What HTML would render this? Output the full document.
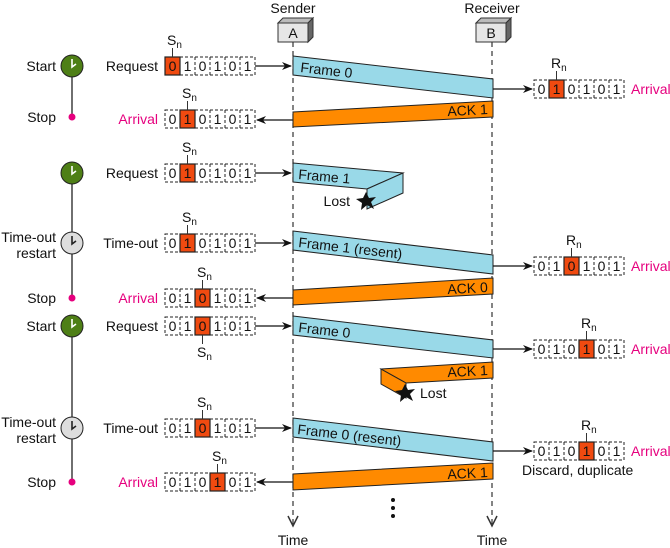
<!DOCTYPE html>
<html><head><meta charset="utf-8"><style>
html,body{margin:0;padding:0;background:#fff}
svg{display:block}
text{font-family:"Liberation Sans",sans-serif;font-size:14px;fill:#111}
.m{fill:#e6007e}
.c{text-anchor:middle}
.e{text-anchor:end}
.box{fill:none;stroke:#222;stroke-width:1;stroke-dasharray:3,2}
.hl{fill:#f04a10;stroke:#222;stroke-width:1.2}
.bl{fill:#99d9e8;stroke:#222;stroke-width:1}
.or{fill:#ff8a00;stroke:#222;stroke-width:1}
.ln{stroke:#111;stroke-width:1.3;fill:none}
</style></head><body>
<svg width="670" height="548" viewBox="0 0 670 548" xmlns="http://www.w3.org/2000/svg">
<defs>
<marker id="ar" markerWidth="10" markerHeight="8" refX="9" refY="4" orient="auto" markerUnits="userSpaceOnUse"><path d="M0,0 L10,4 L0,8 L3,4 z" fill="#111"/></marker>
<g id="bits"><rect class="box" x="0" y="-9" width="90" height="18"/><path class="box" d="M15,-9v18M30,-9v18M45,-9v18M60,-9v18M75,-9v18"/></g>
</defs>

<text class="c" x="293" y="13">Sender</text>
<text class="c" x="492" y="13">Receiver</text>
<polygon points="278,23 283,18 313,18 308,23" fill="#bbb" stroke="#333"/>
<polygon points="308,23 313,18 313,37 308,42" fill="#666" stroke="#333"/>
<rect x="278" y="23" width="30" height="19" fill="#e6e6e6" stroke="#333"/>
<text class="c" x="293" y="38">A</text>
<polygon points="476,23 481,18 511,18 506,23" fill="#bbb" stroke="#333"/>
<polygon points="506,23 511,18 511,37 506,42" fill="#666" stroke="#333"/>
<rect x="476" y="23" width="30" height="19" fill="#e6e6e6" stroke="#333"/>
<text class="c" x="491" y="38">B</text>
<path d="M293,42 V524 M492,42 V524" stroke="#333" stroke-width="1.2" stroke-dasharray="5,4"/>
<path d="M288,516 L293,526 L298,516 M487,516 L492,526 L497,516" fill="none" stroke="#333" stroke-width="1.5"/>
<text class="c" x="293" y="545">Time</text>
<text class="c" x="492" y="545">Time</text>
<circle cx="393" cy="500" r="2" fill="#111"/><circle cx="393" cy="508" r="2" fill="#111"/><circle cx="393" cy="516" r="2" fill="#111"/>

<path d="M72,66 V117 M72,173 V297 M72,326 V482" stroke="#222" stroke-width="1.3"/>
<circle cx="72" cy="66" r="11" fill="#4e7f16" stroke="#222"/><path d="M72,59 V67 L76,64" stroke="#fff" stroke-width="1.6" fill="none"/>
<circle cx="72" cy="117" r="3.5" fill="#e6007e"/>
<circle cx="72" cy="173" r="11" fill="#4e7f16" stroke="#222"/><path d="M72,166 V174 L76,171" stroke="#fff" stroke-width="1.6" fill="none"/>
<circle cx="72" cy="243" r="11" fill="#ddd" stroke="#222"/><path d="M72,236 V244 L76,241" stroke="#222" stroke-width="1.6" fill="none"/>
<circle cx="72" cy="298" r="3.5" fill="#e6007e"/>
<circle cx="72" cy="326" r="11" fill="#4e7f16" stroke="#222"/><path d="M72,319 V327 L76,324" stroke="#fff" stroke-width="1.6" fill="none"/>
<circle cx="72" cy="428" r="11" fill="#ddd" stroke="#222"/><path d="M72,421 V429 L76,426" stroke="#222" stroke-width="1.6" fill="none"/>
<circle cx="72" cy="482" r="3.5" fill="#e6007e"/>
<text class="e" x="56" y="71">Start</text>
<text class="e" x="56" y="122">Stop</text>
<text class="e" x="56" y="242">Time-out</text>
<text class="e" x="56" y="258">restart</text>
<text class="e" x="56" y="303">Stop</text>
<text class="e" x="56" y="331">Start</text>
<text class="e" x="56" y="427">Time-out</text>
<text class="e" x="56" y="443">restart</text>
<text class="e" x="56" y="487">Stop</text>

<text class="e" x="158" y="71">Request</text>
<text class="e m" x="158" y="124">Arrival</text>
<text class="e" x="158" y="178">Request</text>
<text class="e" x="158" y="248">Time-out</text>
<text class="e m" x="158" y="303">Arrival</text>
<text class="e" x="158" y="331">Request</text>
<text class="e" x="158" y="433">Time-out</text>
<text class="e m" x="158" y="487">Arrival</text>

<g transform="translate(165,66)"><use href="#bits"/><rect class="hl" x="0" y="-9" width="15" height="18"/><path d="M7.5,-9v-9" stroke="#333"/><text x="2" y="-21">S<tspan font-size="10" dy="3">n</tspan></text>
<text class="c" x="7.5" y="5">0</text><text class="c" x="22.5" y="5">1</text><text class="c" x="37.5" y="5">0</text><text class="c" x="52.5" y="5">1</text><text class="c" x="67.5" y="5">0</text><text class="c" x="82.5" y="5">1</text></g>

<g transform="translate(165,119)"><use href="#bits"/><rect class="hl" x="15" y="-9" width="15" height="18"/><path d="M22.5,-9v-9" stroke="#333"/><text x="17" y="-21">S<tspan font-size="10" dy="3">n</tspan></text>
<text class="c" x="7.5" y="5">0</text><text class="c" x="22.5" y="5">1</text><text class="c" x="37.5" y="5">0</text><text class="c" x="52.5" y="5">1</text><text class="c" x="67.5" y="5">0</text><text class="c" x="82.5" y="5">1</text></g>

<g transform="translate(165,173)"><use href="#bits"/><rect class="hl" x="15" y="-9" width="15" height="18"/><path d="M22.5,-9v-9" stroke="#333"/><text x="17" y="-21">S<tspan font-size="10" dy="3">n</tspan></text>
<text class="c" x="7.5" y="5">0</text><text class="c" x="22.5" y="5">1</text><text class="c" x="37.5" y="5">0</text><text class="c" x="52.5" y="5">1</text><text class="c" x="67.5" y="5">0</text><text class="c" x="82.5" y="5">1</text></g>

<g transform="translate(165,243)"><use href="#bits"/><rect class="hl" x="15" y="-9" width="15" height="18"/><path d="M22.5,-9v-9" stroke="#333"/><text x="17" y="-21">S<tspan font-size="10" dy="3">n</tspan></text>
<text class="c" x="7.5" y="5">0</text><text class="c" x="22.5" y="5">1</text><text class="c" x="37.5" y="5">0</text><text class="c" x="52.5" y="5">1</text><text class="c" x="67.5" y="5">0</text><text class="c" x="82.5" y="5">1</text></g>

<g transform="translate(165,298)"><use href="#bits"/><rect class="hl" x="30" y="-9" width="15" height="18"/><path d="M37.5,-9v-9" stroke="#333"/><text x="32" y="-21">S<tspan font-size="10" dy="3">n</tspan></text>
<text class="c" x="7.5" y="5">0</text><text class="c" x="22.5" y="5">1</text><text class="c" x="37.5" y="5">0</text><text class="c" x="52.5" y="5">1</text><text class="c" x="67.5" y="5">0</text><text class="c" x="82.5" y="5">1</text></g>

<g transform="translate(165,326)"><use href="#bits"/><rect class="hl" x="30" y="-9" width="15" height="18"/><path d="M37.5,9v9" stroke="#333"/><text x="32" y="31">S<tspan font-size="10" dy="3">n</tspan></text>
<text class="c" x="7.5" y="5">0</text><text class="c" x="22.5" y="5">1</text><text class="c" x="37.5" y="5">0</text><text class="c" x="52.5" y="5">1</text><text class="c" x="67.5" y="5">0</text><text class="c" x="82.5" y="5">1</text></g>

<g transform="translate(165,428)"><use href="#bits"/><rect class="hl" x="30" y="-9" width="15" height="18"/><path d="M37.5,-9v-9" stroke="#333"/><text x="32" y="-21">S<tspan font-size="10" dy="3">n</tspan></text>
<text class="c" x="7.5" y="5">0</text><text class="c" x="22.5" y="5">1</text><text class="c" x="37.5" y="5">0</text><text class="c" x="52.5" y="5">1</text><text class="c" x="67.5" y="5">0</text><text class="c" x="82.5" y="5">1</text></g>

<g transform="translate(165,482)"><use href="#bits"/><rect class="hl" x="45" y="-9" width="15" height="18"/><path d="M52.5,-9v-9" stroke="#333"/><text x="47" y="-21">S<tspan font-size="10" dy="3">n</tspan></text>
<text class="c" x="7.5" y="5">0</text><text class="c" x="22.5" y="5">1</text><text class="c" x="37.5" y="5">0</text><text class="c" x="52.5" y="5">1</text><text class="c" x="67.5" y="5">0</text><text class="c" x="82.5" y="5">1</text></g>

<path class="ln" d="M255,66 H291" marker-end="url(#ar)"/>
<path class="ln" d="M293,120 H257" marker-end="url(#ar)"/>
<path class="ln" d="M255,173 H291" marker-end="url(#ar)"/>
<path class="ln" d="M255,243 H291" marker-end="url(#ar)"/>
<path class="ln" d="M293,298 H257" marker-end="url(#ar)"/>
<path class="ln" d="M255,326 H291" marker-end="url(#ar)"/>
<path class="ln" d="M255,428 H291" marker-end="url(#ar)"/>
<path class="ln" d="M293,482 H257" marker-end="url(#ar)"/>

<polygon class="bl" points="293,56 493,79 493,98 293,75"/>
<text x="300" y="72" transform="rotate(6.5 300 72)">Frame 0</text>
<polygon class="or" points="493,101 493,117 293,127 293,112"/>
<text class="e" x="488" y="114" transform="rotate(-3 488 114)">ACK 1</text>

<polygon class="bl" points="293,163 403,173 367,189 293,182"/>
<polygon class="bl" points="367,189 403,173 403,193 367,209"/>
<text x="298" y="179" transform="rotate(5 298 179)">Frame 1</text>
<text class="e" x="350" y="206">Lost</text>
<polygon points="366,192 369,198 376,197 371,202 374,209 367,205 361,210 362,203 356,199 363,198" fill="#111"/>

<polygon class="bl" points="293,231 493,255 493,274 293,250"/>
<text x="298" y="247" transform="rotate(6.5 298 247)">Frame 1 (resent)</text>
<polygon class="or" points="493,278 493,294 293,305 293,290"/>
<text class="e" x="488" y="292" transform="rotate(-3 488 292)">ACK 0</text>

<polygon class="bl" points="293,316 493,340 493,358 293,335"/>
<text x="298" y="332" transform="rotate(6.5 298 332)">Frame 0</text>
<polygon class="or" points="493,362 493,378 406,383 381,369"/>
<polygon class="or" points="381,369 406,383 406,398 381,384"/>
<text class="e" x="488" y="375" transform="rotate(-3 488 375)">ACK 1</text>
<polygon points="405,384 408,390 415,389 410,394 413,401 406,397 400,402 401,395 395,391 402,390" fill="#111"/>
<text x="420" y="398">Lost</text>

<polygon class="bl" points="293,418 493,442 493,461 293,437"/>
<text x="297" y="434" transform="rotate(6.5 297 434)">Frame 0 (resent)</text>
<polygon class="or" points="493,463 493,479 293,490 293,474"/>
<text class="e" x="488" y="477" transform="rotate(-3 488 477)">ACK 1</text>

<path class="ln" d="M493,89 H532" marker-end="url(#ar)"/>
<path class="ln" d="M493,266 H532" marker-end="url(#ar)"/>
<path class="ln" d="M493,349 H532" marker-end="url(#ar)"/>
<path class="ln" d="M493,451 H532" marker-end="url(#ar)"/>

<g transform="translate(534,89)"><use href="#bits"/><rect class="hl" x="15" y="-9" width="15" height="18"/><path d="M22.5,-9v-9" stroke="#333"/><text x="17" y="-21">R<tspan font-size="10" dy="3">n</tspan></text>
<text class="c" x="7.5" y="5">0</text><text class="c" x="22.5" y="5">1</text><text class="c" x="37.5" y="5">0</text><text class="c" x="52.5" y="5">1</text><text class="c" x="67.5" y="5">0</text><text class="c" x="82.5" y="5">1</text></g>
<g transform="translate(534,266)"><use href="#bits"/><rect class="hl" x="30" y="-9" width="15" height="18"/><path d="M37.5,-9v-9" stroke="#333"/><text x="32" y="-21">R<tspan font-size="10" dy="3">n</tspan></text>
<text class="c" x="7.5" y="5">0</text><text class="c" x="22.5" y="5">1</text><text class="c" x="37.5" y="5">0</text><text class="c" x="52.5" y="5">1</text><text class="c" x="67.5" y="5">0</text><text class="c" x="82.5" y="5">1</text></g>
<g transform="translate(534,349)"><use href="#bits"/><rect class="hl" x="45" y="-9" width="15" height="18"/><path d="M52.5,-9v-9" stroke="#333"/><text x="47" y="-21">R<tspan font-size="10" dy="3">n</tspan></text>
<text class="c" x="7.5" y="5">0</text><text class="c" x="22.5" y="5">1</text><text class="c" x="37.5" y="5">0</text><text class="c" x="52.5" y="5">1</text><text class="c" x="67.5" y="5">0</text><text class="c" x="82.5" y="5">1</text></g>
<g transform="translate(534,451)"><use href="#bits"/><rect class="hl" x="45" y="-9" width="15" height="18"/><path d="M52.5,-9v-9" stroke="#333"/><text x="47" y="-21">R<tspan font-size="10" dy="3">n</tspan></text>
<text class="c" x="7.5" y="5">0</text><text class="c" x="22.5" y="5">1</text><text class="c" x="37.5" y="5">0</text><text class="c" x="52.5" y="5">1</text><text class="c" x="67.5" y="5">0</text><text class="c" x="82.5" y="5">1</text></g>
<text class="m" x="631" y="94">Arrival</text>
<text class="m" x="631" y="271">Arrival</text>
<text class="m" x="631" y="354">Arrival</text>
<text class="m" x="631" y="456">Arrival</text>
<text x="522" y="475">Discard, duplicate</text>
</svg>
</body></html>
